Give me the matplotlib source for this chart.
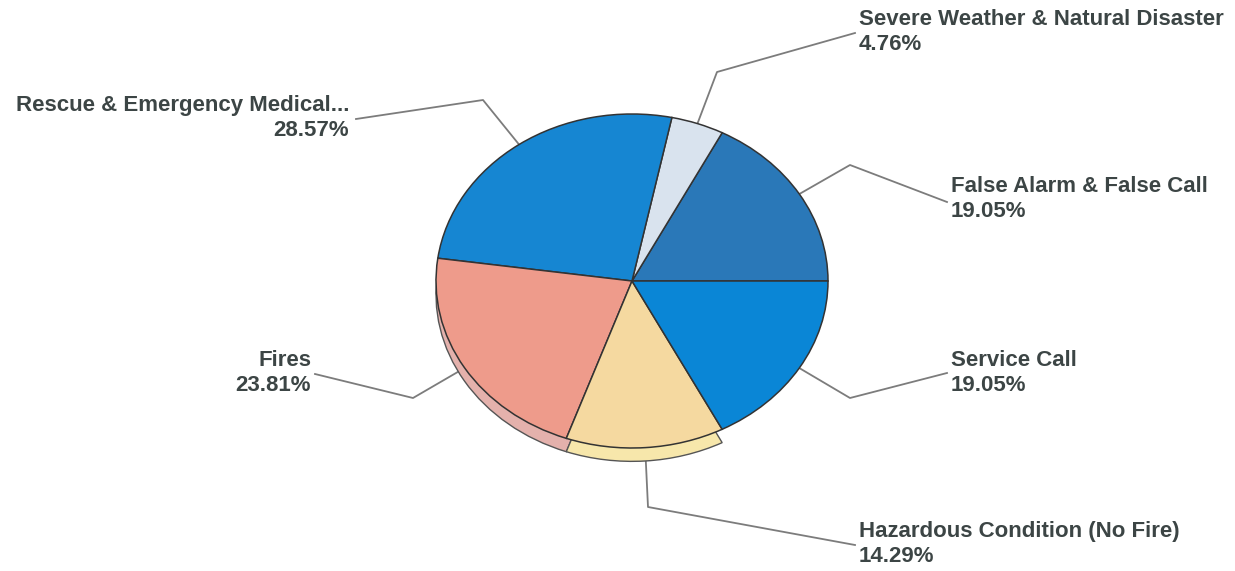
import numpy as np
import matplotlib.pyplot as plt

# incident types, counter-clockwise from 3 o'clock
labels = ["False Alarm & False Call", "Severe Weather & Natural Disaster",
          "Rescue & Emergency Medical...", "Fires",
          "Hazardous Condition (No Fire)", "Service Call"]
pcts = [19.05, 4.76, 28.57, 23.81, 14.29, 19.05]
colors = ["#2a78b8", "#d9e3ee", "#1686d2", "#ee9b8b", "#f5d9a0", "#0a86d6"]
rim_colors = ["none", "none", "none", "#e4b1ac", "#f7e7ab", "none"]

W, H = 1235, 571
fig = plt.figure(figsize=(W / 100, H / 100), dpi=100)

# overlay in pixel coords for leader lines and labels (drawn under the pie)
ov = fig.add_axes([0, 0, 1, 1])
ov.set_xlim(0, W)
ov.set_ylim(H, 0)
ov.axis("off")

# pie axes: elliptical, slightly tilted look
cx, cy, rx, ry = 632, 281, 196, 167
pad = 1.25
pa = fig.add_axes([(cx - rx * pad) / W, (H - cy - ry * pad) / H,
                   2 * rx * pad / W, 2 * ry * pad / H])
pa.patch.set_alpha(0)

rim, _ = pa.pie(pcts, colors=rim_colors, startangle=0, counterclock=True,
                center=(0, -0.08),
                wedgeprops=dict(edgecolor="#555555", linewidth=1))
for w, c in zip(rim, rim_colors):
    if c == "none":
        w.set_edgecolor("none")
wedges, _ = pa.pie(pcts, colors=colors, startangle=0, counterclock=True,
                   wedgeprops=dict(edgecolor="#333333", linewidth=1.1))
pa.set_aspect("auto")
pa.set_xlim(-pad, pad)
pa.set_ylim(-pad, pad)
pa.axis("off")

# label layout: elbow point, line end, text anchor, alignment
layout = {
    "Rescue & Emergency Medical...": ((483, 100), (356, 119), (349, 118), "right"),
    "Severe Weather & Natural Disaster": ((717, 72), (855, 33), (859, 32), "left"),
    "False Alarm & False Call": ((850, 165), (947, 202), (951, 199), "left"),
    "Service Call": ((850, 398), (947, 373), (951, 373), "left"),
    "Fires": ((413, 398), (315, 374), (311, 373), "right"),
    "Hazardous Condition (No Fire)": ((648, 507), (855, 545), (859, 544), "left"),
}

for w, lab, p in zip(wedges, labels, pcts):
    mid = np.deg2rad((w.theta1 + w.theta2) / 2)
    sx, sy = cx + rx * 0.97 * np.cos(mid), cy - ry * 0.97 * np.sin(mid)
    (ex, ey), (lx, ly), (tx, ty), ha = layout[lab]
    ov.plot([sx, ex, lx], [sy, ey, ly], color="#7c7c7c", lw=1.3)
    ov.text(tx, ty, f"{lab}\n{p:.2f}%", ha=ha, va="center", multialignment=ha,
            fontsize=16, fontweight="bold", family="Liberation Sans",
            color="#3c4545", linespacing=1.25)

fig.savefig("out.png", dpi=100)
